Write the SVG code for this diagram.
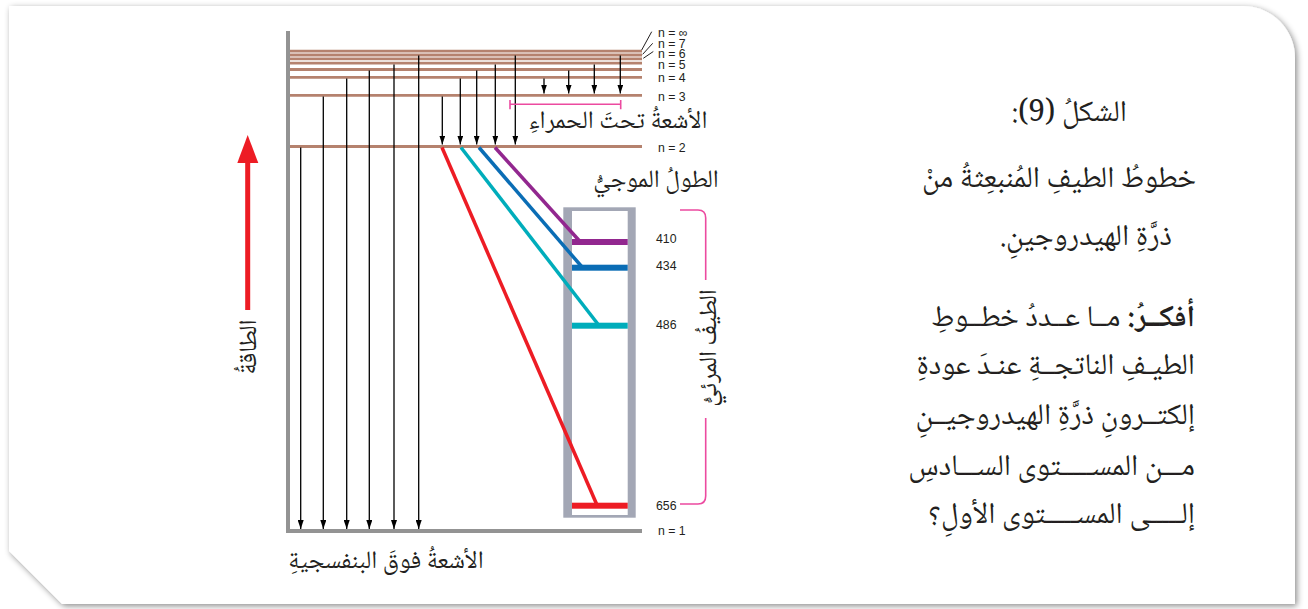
<svg xmlns="http://www.w3.org/2000/svg" width="1308" height="609" viewBox="0 0 1308 609">
<style>
.lvl{stroke:#b5826e;stroke-width:2.8;fill:none}
.ax{stroke:#939393;stroke-width:4;fill:none}
.arr{stroke:#000;stroke-width:1.3;fill:none;marker-end:url(#ah)}
.nl{font-family:"Liberation Sans",Arial,sans-serif;font-size:12.3px;fill:#231f20}
.ar{font-family:"Noto Naskh Arabic","Amiri","Noto Sans Arabic","DejaVu Sans",sans-serif;fill:#231f20}
.lbl{font-size:25px}
.body{font-size:30px}
.pk{stroke:#ec4aa0;stroke-width:1.6;fill:none}
.ld{stroke:#231f20;stroke-width:1;fill:none}
</style>
<defs>
<marker id="ah" markerUnits="userSpaceOnUse" markerWidth="9" markerHeight="6" refX="9" refY="3" orient="auto">
<path d="M0,0 L9,3 L0,6 Z" fill="#000"/>
</marker>
<filter id="sh" x="-5%" y="-5%" width="110%" height="115%">
<feDropShadow dx="2" dy="2" stdDeviation="3" flood-color="#000" flood-opacity="0.45"/>
</filter>
</defs>
<rect width="1308" height="609" fill="#fff"/>
<path id="panel" d="M9,6 H1243 A52,52 0 0 1 1295,58 V604 H62 L9,551 Z" fill="#fff" filter="url(#sh)"/>

<g id="energy-levels">
<line class="ax" x1="288" y1="31" x2="288" y2="533"/>
<line class="ax" x1="286" y1="531" x2="642" y2="531"/>
<line class="lvl" x1="290" y1="51.2" x2="642" y2="51.2"/>
<line class="lvl" x1="290" y1="55" x2="642" y2="55"/>
<line class="lvl" x1="290" y1="58.8" x2="642" y2="58.8"/>
<line class="lvl" x1="290" y1="63.2" x2="642" y2="63.2"/>
<line class="lvl" x1="290" y1="69.5" x2="642" y2="69.5"/>
<line class="lvl" x1="290" y1="77.3" x2="642" y2="77.3"/>
<line class="lvl" x1="290" y1="95.3" x2="642" y2="95.3"/>
<line class="lvl" x1="290" y1="146.5" x2="642" y2="146.5"/>
</g>

<g id="level-labels">
<line class="ld" x1="641.7" y1="50" x2="651.7" y2="31.7"/>
<line class="ld" x1="642.7" y1="54.3" x2="652.7" y2="43.3"/>
<line class="ld" x1="643.3" y1="58.3" x2="653.3" y2="51.5"/>
<text class="nl" x="658" y="36.5">n = ∞</text>
<text class="nl" x="658" y="48">n = 7</text>
<text class="nl" x="658" y="57.5">n = 6</text>
<text class="nl" x="658" y="69.3">n = 5</text>
<text class="nl" x="658" y="82">n = 4</text>
<text class="nl" x="658" y="101">n = 3</text>
<text class="nl" x="658" y="151.7">n = 2</text>
<text class="nl" x="658" y="535">n = 1</text>
</g>

<g id="spectrum">
<rect x="563.3" y="207.3" width="72.4" height="310.4" fill="#a3a7b5"/>
<rect x="572" y="211" width="55.7" height="304" fill="#fff"/>
<rect x="572" y="239" width="55.7" height="6" fill="#92278f"/>
<rect x="572" y="264.7" width="55.7" height="6" fill="#0a6db5"/>
<rect x="572" y="322.7" width="55.7" height="6" fill="#00adbb"/>
<rect x="572" y="502.7" width="55.7" height="6" fill="#ed1c24"/>
<text class="nl" x="656" y="243.3">410</text>
<text class="nl" x="656" y="270">434</text>
<text class="nl" x="656" y="329">486</text>
<text class="nl" x="656" y="510.3">656</text>
</g>

<g id="connectors">
<line class="arr" x1="300.7" y1="147.5" x2="300.7" y2="529"/>
<line class="arr" x1="323.3" y1="96.5" x2="323.3" y2="529"/>
<line class="arr" x1="346.7" y1="78.5" x2="346.7" y2="529"/>
<line class="arr" x1="369.3" y1="70.5" x2="369.3" y2="529"/>
<line class="arr" x1="394" y1="64.5" x2="394" y2="529"/>
<line class="arr" x1="418.7" y1="55.5" x2="418.7" y2="529"/>

<line class="arr" x1="442.3" y1="96.5" x2="442.3" y2="144.5"/>
<line class="arr" x1="460.3" y1="78.5" x2="460.3" y2="144.5"/>
<line class="arr" x1="476.7" y1="70.5" x2="476.7" y2="144.5"/>
<line class="arr" x1="495.3" y1="64.5" x2="495.3" y2="144.5"/>
<line class="arr" x1="515.3" y1="55.5" x2="515.3" y2="144.5"/>

<line class="arr" x1="544" y1="78.5" x2="544" y2="93.5"/>
<line class="arr" x1="568.7" y1="70.5" x2="568.7" y2="93.5"/>
<line class="arr" x1="594.3" y1="64.5" x2="594.3" y2="93.5"/>
<line class="arr" x1="620.3" y1="55.5" x2="620.3" y2="93.5"/>

<line x1="442" y1="147.5" x2="597" y2="505" stroke="#ed1c24" stroke-width="3.5"/>
<line x1="461" y1="147.5" x2="599" y2="325.5" stroke="#00adbb" stroke-width="3.5"/>
<line x1="479" y1="147.5" x2="582" y2="267" stroke="#0a6db5" stroke-width="3.5"/>
<line x1="495" y1="147.5" x2="580" y2="241.5" stroke="#92278f" stroke-width="3.5"/>
</g>

<g id="infrared-bracket">
<path class="pk" d="M510,100 V109.3 M510,104.3 H620.7 M620.7,100 V109.3"/>
<text class="ar lbl" x="618" y="128" text-anchor="middle" direction="rtl">الأشعةُ تحتَ الحمراءِ</text>
</g>

<g id="wavelength-label">
<text class="ar lbl" x="656" y="187" text-anchor="middle" direction="rtl" font-size="26">الطولُ الموجيُّ</text>
</g>

<g id="visible-bracket">
<path class="pk" d="M680,210 H698 Q705.7,210 705.7,218 V280 M705.7,418 V496 Q705.7,504 698,504 H680"/>
<text class="ar lbl" transform="translate(716,348) rotate(-90)" text-anchor="middle" direction="rtl" font-size="27">الطيفُ المرئيُّ</text>
</g>

<g id="energy-arrow">
<rect x="245.2" y="160" width="5" height="150" fill="#ed1c24"/>
<path d="M237.3,163 L247.7,135 L258.3,163 Z" fill="#ed1c24"/>
<text class="ar lbl" transform="translate(256,347) rotate(-90)" text-anchor="middle" direction="rtl">الطاقةُ</text>
</g>

<g id="uv-label">
<text class="ar lbl" x="386" y="568" text-anchor="middle" direction="rtl">الأشعةُ فوقَ البنفسجيةِ</text>
</g>

<g id="caption">
<text class="ar body" x="1127" y="121" text-anchor="start" direction="rtl">الشكلُ (9):</text>
<text class="ar body" x="1196" y="187" text-anchor="start" direction="rtl" font-size="29">خطوطُ الطيفِ المُنبعِثةُ منْ</text>
<text class="ar body" x="1172" y="245" text-anchor="start" direction="rtl">ذرَّةِ الهيدروجينِ.</text>
<text class="ar body" x="1195" y="326" text-anchor="start" direction="rtl"><tspan font-weight="bold">أفكــرُ:</tspan> مــا عــددُ خطــوطِ</text>
<text class="ar body" x="1195" y="374" text-anchor="start" direction="rtl">الطيـفِ الناتجــةِ عنـدَ عودةِ</text>
<text class="ar body" x="1195" y="424" text-anchor="start" direction="rtl">إلكتــرونِ ذرَّةِ الهيدروجيــنِ</text>
<text class="ar body" x="1195" y="475" text-anchor="start" direction="rtl">مـــن المســـــتوى الســـادسِ</text>
<text class="ar body" x="1195" y="523" text-anchor="start" direction="rtl">إلـــــى المســـــتوى الأولِ؟</text>
</g>
</svg>
